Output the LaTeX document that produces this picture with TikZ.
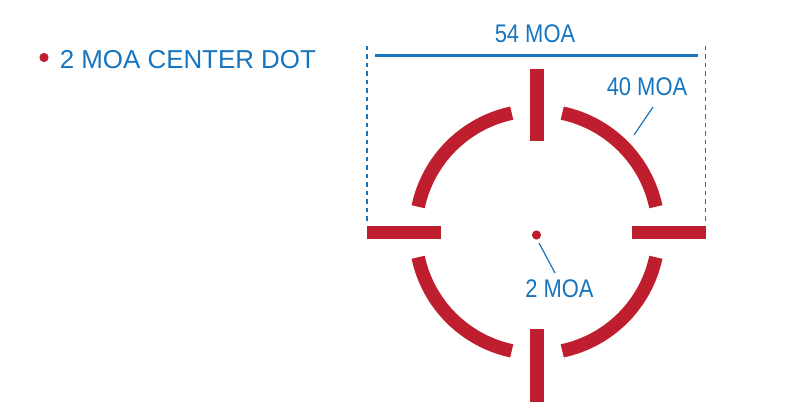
\documentclass[tikz,border=0pt]{standalone}
\usepackage{fontspec}
\setmainfont{Liberation Sans}
\newfontfamily\narrowfont[FakeStretch=0.86]{Liberation Sans}
\definecolor{retred}{RGB}{190,30,45}
\definecolor{retblue}{RGB}{22,117,190}
\begin{document}
\begin{tikzpicture}[x=1pt,y=-1pt,
  bar/.style={fill=retred,draw=none},
  ring/.style={draw=retred,line width=13.5pt,line cap=butt},
  lbl/.style={text=retblue,inner sep=0pt,font=\narrowfont\fontsize{25.5}{30}\selectfont},
  leader/.style={draw=retblue,line width=1.2pt},
  dim/.style={draw=retblue,line width=2.8pt},
  guide/.style={draw=retblue,line width=1.4pt,dash pattern=on 4.5pt off 4pt}]
\useasboundingbox (0,0) rectangle (785,420);
% title
\fill[retred] (44,57.5) circle (4.6);
\node[anchor=base west,inner sep=0pt,text=retblue,font=\fontsize{25.9}{30}\selectfont] (title) at (59.6,69) {2 MOA CENTER DOT};
% dimension 54 MOA
\draw[guide] (367,46) -- (367,224);
\draw[guide] (705.5,46) -- (705.5,224);
\coordinate (dl) at (375,55.7);
\coordinate (dr) at (698,55.7);
\draw[dim] (dl) -- (dr);
\node[lbl,anchor=base] (l54) at (535,42.3) {54 MOA};
% ring arcs
\coordinate (c) at (537,232);
\foreach \a in {12,102,192,282}{
  \draw[ring] ([shift={(c)}]\a:121.5) arc[start angle=\a, end angle=\a+66, radius=121.5];
}
% bars
\fill[bar] (367,226) rectangle (441,239.3);
\fill[bar] (632,226) rectangle (706,239.3);
\fill[bar] (530.3,69.3) rectangle (543.7,141);
\fill[bar] (530.3,329) rectangle (543.7,401.7);
% center dot
\node[circle,fill=retred,inner sep=0pt,minimum size=9.2pt] (dot) at (536.5,235) {};
% labels
\node[lbl,anchor=base] (l40) at (647,95.7) {40 MOA};
\coordinate (a40) at (653,107);
\coordinate (b40) at (634,135);
\draw[leader] (a40) -- (b40);
\node[lbl,anchor=base] (l2) at (559.5,297.7) {2 MOA};
\coordinate (a2) at (539,243);
\coordinate (b2) at (555,273);
\draw[leader] (a2) -- (b2);
\end{tikzpicture}
\end{document}
